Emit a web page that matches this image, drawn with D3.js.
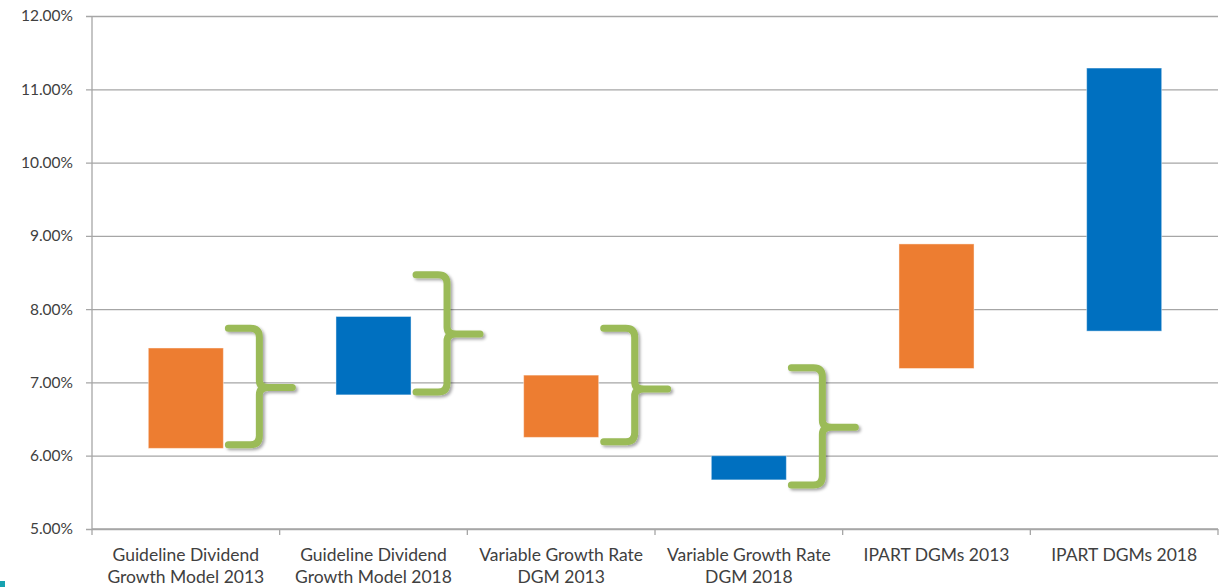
<!DOCTYPE html>
<html lang="en">
<head>
    <meta charset="UTF-8">
    <title>DGM ranges</title>
    <script src="https://cdn.jsdelivr.net/npm/d3@7"></script>
    <style>
        body { margin: 0; background: #fff; }
        text { font-family: Lato, "Open Sans", sans-serif; fill: #404040; }
    </style>
</head>
<body>
    <script>
        // categories (x axis), two lines each
        var categories = [
            "Guideline Dividend\nGrowth Model 2013",
            "Guideline Dividend\nGrowth Model 2018",
            "Variable Growth Rate\nDGM 2013",
            "Variable Growth Rate\nDGM 2018",
            "IPART DGMs 2013",
            "IPART DGMs 2018"
        ];
        // floating bars: low / high (%)
        var lows  = [6.10, 6.83, 6.25, 5.67, 7.19, 7.70];
        var highs = [7.47, 7.90, 7.10, 6.00, 8.89, 11.29];
        var years = [2013, 2018, 2013, 2018, 2013, 2018];

        // green braces next to the first four bars (%)
        var braceTop = [7.74, 8.47, 7.74, 7.20];
        var braceMid = [6.93, 7.66, 6.91, 6.39];
        var braceBot = [6.15, 6.87, 6.19, 5.60];

        var yTicks = [5, 6, 7, 8, 9, 10, 11, 12];

        var W = 1222, H = 587;
        // plot box (note: "top" is reserved on window)
        var pl = 92, pr = 1218, pt = 16, pb = 529;

        var svg = d3.select("body").append("svg")
            .attr("width", W)
            .attr("height", H);

        var defs = svg.append("defs");
        var f = defs.append("filter").attr("id", "shadow")
            .attr("x", "-30%").attr("y", "-30%").attr("width", "160%").attr("height", "160%");
        f.append("feDropShadow")
            .attr("dx", 2).attr("dy", 2)
            .attr("stdDeviation", 1.5)
            .attr("flood-color", "#000")
            .attr("flood-opacity", 0.35);

        var x = d3.scaleBand()
            .domain(categories)
            .range([pl, pr])
            .padding(0);

        var y = d3.scaleLinear()
            .domain([5, 12])
            .range([pb, pt]);

        var color = d3.scaleOrdinal()
            .domain([2013, 2018])
            .range(["#ED7D31", "#0070C0"]);

        // gridlines + y labels
        var yAxis = d3.axisLeft(y)
            .tickValues(yTicks)
            .tickSize(-(pr - pl))
            .tickPadding(19)
            .tickFormat(function (d) { return d.toFixed(2) + "%"; });

        var gy = svg.append("g")
            .attr("transform", "translate(" + pl + ",0)")
            .call(yAxis);
        gy.select(".domain").remove();
        gy.selectAll(".tick line")
            .attr("x1", -6)
            .attr("stroke", "#A6A6A6")
            .attr("stroke-width", 1.3);
        gy.selectAll(".tick text")
            .style("font-size", "15.5px")
            .attr("fill", "#404040");

        // left axis line
        svg.append("line")
            .attr("x1", pl).attr("x2", pl)
            .attr("y1", pt).attr("y2", pb)
            .attr("stroke", "#A6A6A6")
            .attr("stroke-width", 1.3);

        // bottom axis with ticks at category boundaries
        var bounds = categories.map(function (c) { return x(c); }).concat([pr]);
        svg.append("line")
            .attr("x1", pl).attr("x2", pr)
            .attr("y1", pb).attr("y2", pb)
            .attr("stroke", "#A6A6A6")
            .attr("stroke-width", 1.3);
        svg.selectAll("line.xtick")
            .data(bounds)
            .enter()
            .append("line")
            .attr("class", "xtick")
            .attr("x1", function (d) { return d; })
            .attr("x2", function (d) { return d; })
            .attr("y1", pb)
            .attr("y2", pb + 6)
            .attr("stroke", "#A6A6A6")
            .attr("stroke-width", 1.3);

        // x labels
        var xl = svg.selectAll("text.xlab")
            .data(categories)
            .enter()
            .append("text")
            .attr("class", "xlab")
            .attr("text-anchor", "middle")
            .style("font-size", "17.5px");
        xl.each(function (d) {
            var lines = d.split("\n");
            var t = d3.select(this);
            lines.forEach(function (s, i) {
                t.append("tspan")
                    .attr("x", x(d) + x.bandwidth() / 2)
                    .attr("y", 561 + i * 22)
                    .text(s);
            });
        });

        // floating bars
        var bw = x.bandwidth() * 0.4;
        svg.selectAll("rect.bar")
            .data(categories)
            .enter()
            .append("rect")
            .attr("class", "bar")
            .attr("x", function (d) { return x(d) + x.bandwidth() / 2 - bw / 2; })
            .attr("width", bw)
            .attr("y", function (d, i) { return y(highs[i]); })
            .attr("height", function (d, i) { return y(lows[i]) - y(highs[i]); })
            .attr("fill", function (d, i) { return color(years[i]); })
            .attr("stroke", "rgba(255,255,255,0.45)")
            .attr("stroke-width", 1);

        // curly braces
        function brace(x0, yt, ym, yb) {
            var v = x0 + 31, t = x0 + 64, r = 9;
            return "M" + x0 + "," + yt +
                "L" + (v - r) + "," + yt +
                "Q" + v + "," + yt + " " + v + "," + (yt + r) +
                "L" + v + "," + (ym - 7) +
                "Q" + v + "," + ym + " " + (v + 9) + "," + ym +
                "L" + t + "," + ym +
                "M" + (v + 9) + "," + ym +
                "Q" + v + "," + ym + " " + v + "," + (ym + 7) +
                "L" + v + "," + (yb - r) +
                "Q" + v + "," + yb + " " + (v - r) + "," + yb +
                "L" + x0 + "," + yb;
        }
        svg.selectAll("path.brace")
            .data(braceTop)
            .enter()
            .append("path")
            .attr("class", "brace")
            .attr("d", function (d, i) {
                var c = categories[i];
                var x0 = x(c) + x.bandwidth() / 2 + bw / 2 + 5;
                return brace(x0, y(braceTop[i]), y(braceMid[i]), y(braceBot[i]));
            })
            .attr("fill", "none")
            .attr("stroke", "#9BBB59")
            .attr("stroke-width", 7)
            .attr("stroke-linecap", "round")
            .attr("stroke-linejoin", "round")
            .attr("filter", "url(#shadow)");

        // slide corner accent
        svg.append("rect")
            .attr("x", 0).attr("y", 581)
            .attr("width", 5).attr("height", 6)
            .attr("fill", "#17A2B0");
    </script>
</body>
</html>
